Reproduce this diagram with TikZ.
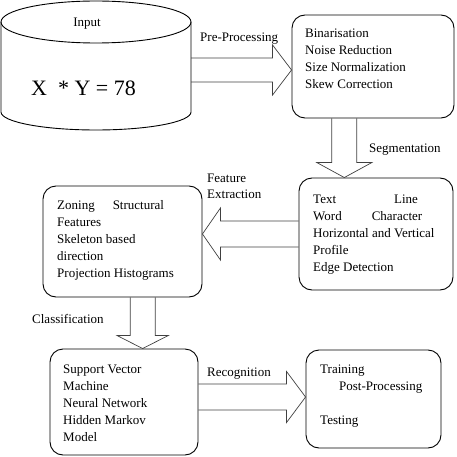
\documentclass[tikz,border=0pt]{standalone}
\usepackage{fontspec}
\setmainfont{Liberation Serif}
\usetikzlibrary{calc}
\tikzset{
  box/.style={draw, line width=0.9pt, rounded corners=13pt, inner sep=0pt},
  txt/.style={font=\fontsize{13pt}{17pt}\selectfont, align=left, anchor=north west, inner sep=0pt},
  lbl/.style={font=\fontsize{13pt}{16pt}\selectfont, align=left, anchor=base west, inner sep=0pt},
  barrow/.style={draw=black!75, line width=0.7pt, line join=miter},
  cyl/.style={draw, line width=0.9pt},
}
\newcommand\blockarrow[5]{%
  \coordinate (ba-h) at ($(#2)!#5!(#1)$);
  \draw[barrow] ($(#1)!#3!90:(#2)$) -- ($(ba-h)!#3!-90:(#1)$) -- ($(ba-h)!#4!-90:(#1)$)
     -- (#2) -- ($(ba-h)!#4!90:(#1)$) -- ($(ba-h)!#3!90:(#1)$) -- ($(#1)!#3!-90:(#2)$);
}
\begin{document}
\begin{tikzpicture}[x=1pt,y=-1pt]
\useasboundingbox (0,0) rectangle (457,457);
% cylinder (input store)
\draw[cyl] (96,22) ellipse [x radius=95pt, y radius=21pt];
\draw[cyl] (1,22) -- (1,112) arc[start angle=180, end angle=360, x radius=95pt, y radius=18pt] -- (191,22);
\node[font=\fontsize{13pt}{16pt}\selectfont, anchor=base, inner sep=0pt] (inlbl) at (87,26.3) {Input};
\node[font=\fontsize{22pt}{26pt}\selectfont, anchor=base, inner sep=0pt] (expr) at (83.5,95.3) {X\ \ * Y = 78};
\coordinate (inR) at (191,70);
% boxes
\node[box, minimum width=162pt, minimum height=103pt] (b1) at (373,66.5) {};
\node[box, minimum width=154pt, minimum height=112pt] (b2) at (376,234) {};
\node[box, minimum width=159pt, minimum height=111pt] (b3) at (122.5,241.5) {};
\node[box, minimum width=148pt, minimum height=106pt] (b4) at (124,402) {};
\node[box, minimum width=135pt, minimum height=98pt] (b5) at (373.5,399) {};
% box texts
\node[txt] (t1) at (305,28.4) {Binarisation\\Noise Reduction\\Size Normalization\\Skew Correction};
\node[txt] (t2) at (313,194.4) {Text\hspace{58pt}Line\\Word\hspace{30pt}Character\\Horizontal and Vertical\\Profile\\Edge Detection};
\node[txt] (t3) at (57,200.4) {Zoning\hspace{18pt}Structural\\Features\\Skeleton based\\direction\\Projection Histograms};
\node[txt] (t4) at (63,364.4) {Support Vector\\Machine\\Neural Network\\Hidden Markov\\Model};
\node[txt] (t5) at (320,364.4) {Training\\\hspace*{19pt}Post-Processing\\[17pt]Testing};
% arrow end points
\coordinate (a1e) at (b1.west |- inR);
\coordinate (a2s) at ($(b1.south west)!0.324!(b1.south east)$);
\coordinate (a2e) at (a2s |- b2.north);
\coordinate (a3s) at (b2.west);
\coordinate (a3e) at (b3.east |- a3s);
\coordinate (a4s) at ($(b3.south west)!0.626!(b3.south east)$);
\coordinate (a4e) at (a4s |- b4.north);
\coordinate (a5s) at ($(b4.east)+(0,-5)$);
\coordinate (a5e) at (b5.west |- a5s);
% block arrows
\blockarrow{inR}{a1e}{12pt}{25pt}{19pt}
\blockarrow{a2s}{a2e}{12.5pt}{27.5pt}{15pt}
\blockarrow{a3s}{a3e}{13pt}{26pt}{18pt}
\blockarrow{a4s}{a4e}{12.5pt}{25.5pt}{13pt}
\blockarrow{a5s}{a5e}{13pt}{25.5pt}{19pt}
% arrow labels
\node[lbl] (l1) at (200,41.3) {Pre-Processing};
\node[lbl] (l2) at (369,152.3) {Segmentation};
\node[txt, font=\fontsize{13pt}{16pt}\selectfont] (l3) at (207,173.4) {Feature\\Extraction};
\node[lbl] (l4) at (32,323.3) {Classification};
\node[lbl] (l5) at (207,376.3) {Recognition};
\end{tikzpicture}
\end{document}
